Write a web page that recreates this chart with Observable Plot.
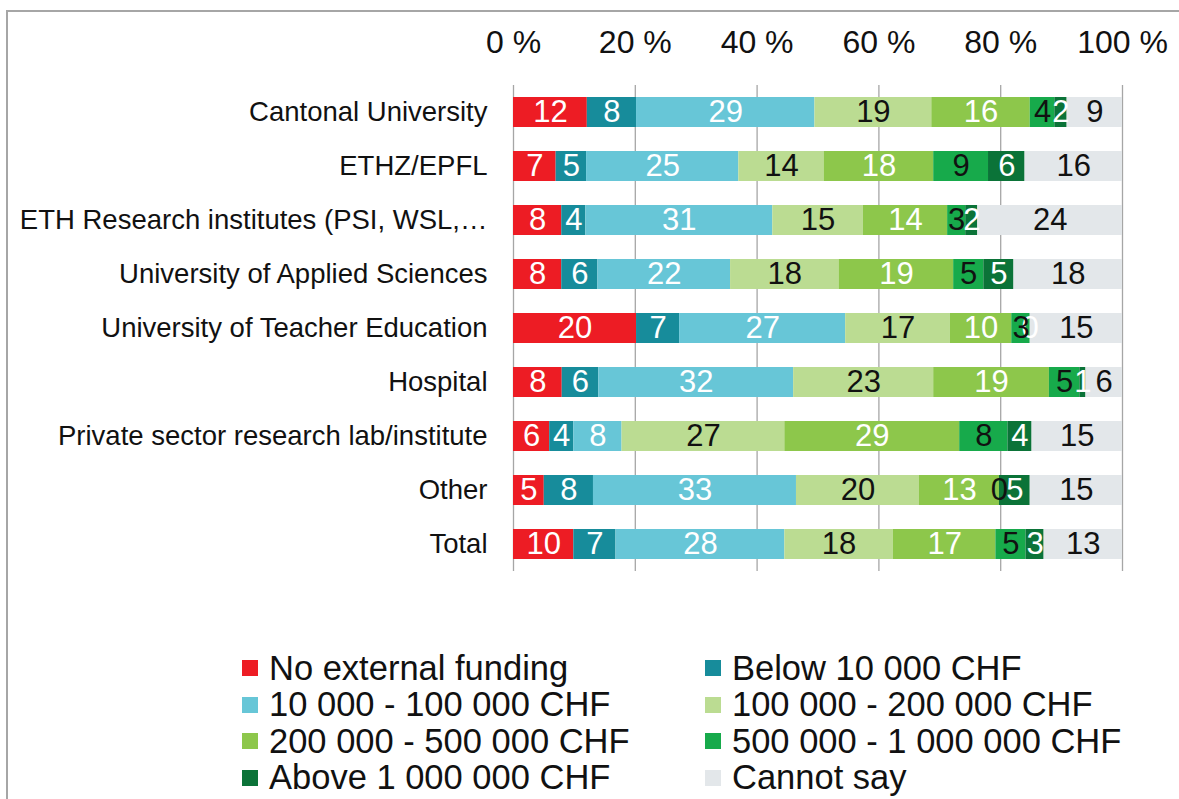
<!DOCTYPE html>
<html>
<head>
<meta charset="utf-8">
<script src="https://cdn.jsdelivr.net/npm/d3@7"></script>
<script src="https://cdn.jsdelivr.net/npm/@observablehq/plot@0.6"></script>
<style>
  html, body { margin: 0; padding: 0; background: #fff; width: 1179px; height: 799px; overflow: hidden; }
  body { position: relative; font-family: Arial, "Liberation Sans", sans-serif; color: #111; }
  #frame { position: absolute; left: 6px; top: 10px; width: 1190px; height: 800px; border-left: 2px solid #a6a6a6; border-top: 2px solid #a6a6a6; box-sizing: border-box; }
  #chart { position: absolute; left: 0; top: 0; }
  .lg { position: absolute; height: 36px; display: flex; align-items: center; font-size: 34.5px; white-space: nowrap; color: #111; }
  .sw { width: 16px; height: 16px; margin-right: 11px; flex: none; }
</style>
</head>
<body>
<div id="frame"></div>
<div id="chart"></div>
<div id="legend"></div>
<script>
const categories = [
  "Cantonal University",
  "ETHZ/EPFL",
  "ETH Research institutes (PSI, WSL,…",
  "University of Applied Sciences",
  "University of Teacher Education",
  "Hospital",
  "Private sector research lab/institute",
  "Other",
  "Total"
];
const seriesNames = [
  "No external funding",
  "Below 10 000 CHF",
  "10 000 - 100 000 CHF",
  "100 000 - 200 000 CHF",
  "200 000 - 500 000 CHF",
  "500 000 - 1 000 000 CHF",
  "Above 1 000 000 CHF",
  "Cannot say"
];
const seriesColors = ["#ed1c24", "#178c9b", "#67c6d7", "#bbdc92", "#8dc74b", "#17aa4b", "#0b7338", "#e3e7ea"];
const labelColors = ["white", "white", "white", "black", "white", "black", "white", "black"];

const noExternalFunding = [12, 7, 8, 8, 20, 8, 6, 5, 10];
const below10k          = [8, 5, 4, 6, 7, 6, 4, 8, 7];
const from10kTo100k     = [29, 25, 31, 22, 27, 32, 8, 33, 28];
const from100kTo200k    = [19, 14, 15, 18, 17, 23, 27, 20, 18];
const from200kTo500k    = [16, 18, 14, 19, 10, 19, 29, 13, 17];
const from500kTo1M      = [4, 9, 3, 5, 3, 5, 8, 0, 5];
const above1M           = [2, 6, 2, 5, 0, 1, 4, 5, 3];
const cannotSay         = [9, 16, 24, 18, 15, 6, 15, 15, 13];

const xTicks = [0, 0.2, 0.4, 0.6, 0.8, 1];

const seriesValues = [noExternalFunding, below10k, from10kTo100k, from100kTo200k, from200kTo500k, from500kTo1M, above1M, cannotSay];
const data = [];
categories.forEach((c, i) => {
  seriesNames.forEach((s, j) => {
    data.push({category: c, series: s, value: seriesValues[j][i], label: labelColors[j]});
  });
});

const stackOpts = {offset: "normalize", order: null};
const fontFamily = 'Arial, "Liberation Sans", sans-serif';

const plot = Plot.plot({
  width: 1179,
  height: 600,
  marginLeft: 513,
  marginRight: 57,
  marginTop: 85,
  marginBottom: 29,
  style: {fontFamily: fontFamily, color: "#111", background: "transparent", overflow: "visible"},
  x: {domain: [0, 1], label: null},
  y: {domain: categories, paddingInner: 0.45, paddingOuter: 0.16, label: null},
  color: {domain: seriesNames, range: seriesColors},
  marks: [
    Plot.gridX(xTicks, {stroke: "#a6a6a6", strokeOpacity: 1, strokeWidth: 1.3}),
    Plot.barX(data, Plot.stackX(stackOpts, {x: "value", y: "category", fill: "series", z: "series"})),
    Plot.text(data, Plot.stackX(stackOpts, {x: "value", y: "category", z: "series",
      text: d => d.label === "white" ? String(d.value) : null, fill: "white", fontSize: 31})),
    Plot.text(data, Plot.stackX(stackOpts, {x: "value", y: "category", z: "series",
      text: d => d.label === "black" ? String(d.value) : null, fill: "#111", fontSize: 31})),
    Plot.axisX(xTicks, {anchor: "top", tickSize: 0, tickPadding: 33, fontSize: 32, tickFormat: d => Math.round(d * 100) + " %", label: null}),
    Plot.axisY({tickSize: 0, tickPadding: 26, fontSize: 27.5, label: null})
  ]
});
document.getElementById("chart").appendChild(plot);

const legend = d3.select("#legend");
seriesNames.forEach((s, i) => {
  const col = i % 2, row = Math.floor(i / 2);
  const item = legend.append("div").attr("class", "lg")
    .style("left", (col === 0 ? 242 : 705) + "px")
    .style("top", (650 + row * 36.5) + "px");
  item.append("div").attr("class", "sw").style("background", seriesColors[i]);
  item.append("span").text(s);
});
</script>
</body>
</html>
